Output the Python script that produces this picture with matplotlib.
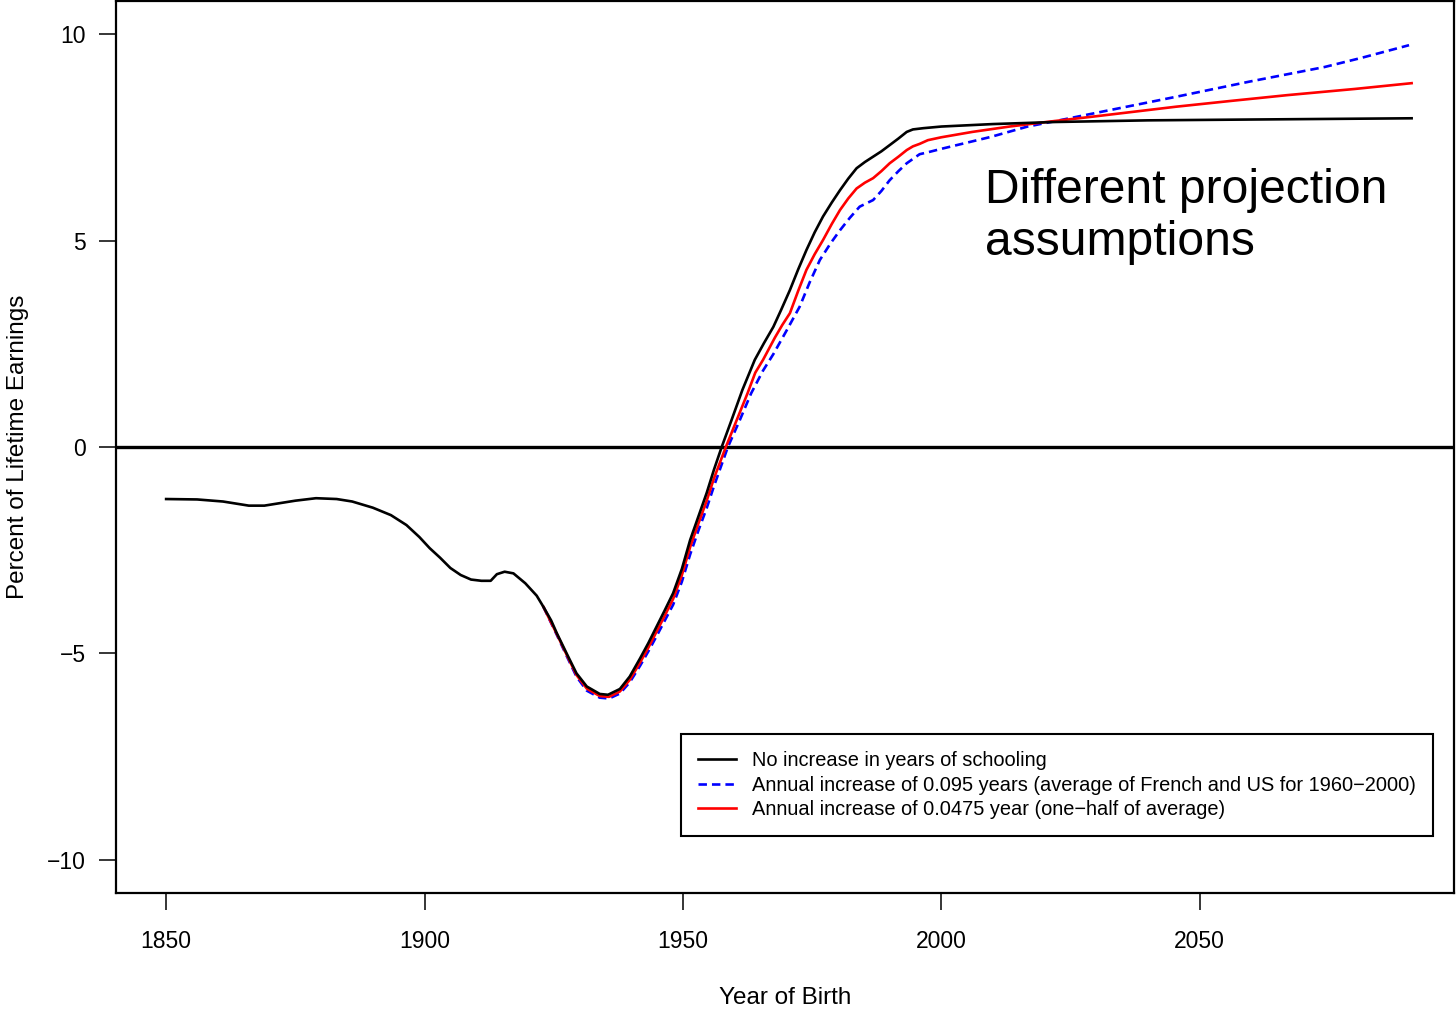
import matplotlib
matplotlib.use("Agg")
import matplotlib.pyplot as plt
from matplotlib.lines import Line2D

plt.rcParams["font.family"] = ["Liberation Sans", "DejaVu Sans"]

# Scenario: no increase in years of schooling
years_flat = [1850, 1856, 1861, 1866, 1869, 1875, 1879, 1883, 1886, 1890,
              1893.5, 1896.5, 1899, 1901, 1903, 1905, 1907, 1909, 1911, 1912.8,
              1914, 1915.5, 1917.2, 1919.5, 1921.7, 1923, 1924.5, 1925.6, 1927.5, 1929.4,
              1931.4, 1933.9, 1935.5, 1937.8, 1939.7, 1941.7, 1943.3, 1944.9, 1946.5, 1948.1,
              1949.8, 1951.4, 1953, 1954.6, 1956, 1957.5, 1959.4, 1961.5, 1963.9, 1965.7,
              1967.5, 1969, 1970.7, 1972.3, 1973.9, 1975.5, 1977.1, 1978.8, 1980.4, 1982,
              1983.6, 1985.2, 1986.8, 1988.4, 1990.0, 1991.7, 1993.3, 1994.5, 1996.5, 2000,
              2010, 2022, 2040, 2060, 2091]
share_flat = [-1.26, -1.27, -1.32, -1.42, -1.42, -1.30, -1.24, -1.26, -1.32, -1.47,
              -1.65, -1.89, -2.18, -2.45, -2.68, -2.93, -3.10, -3.21, -3.24, -3.24,
              -3.08, -3.02, -3.06, -3.30, -3.60, -3.87, -4.20, -4.51, -5.00, -5.48,
              -5.80, -5.98, -6.00, -5.86, -5.56, -5.12, -4.75, -4.35, -3.95, -3.54,
              -2.95, -2.25, -1.68, -1.11, -0.55, 0.00, 0.65, 1.38, 2.11, 2.52,
              2.91, 3.32, 3.80, 4.30, 4.77, 5.20, 5.58, 5.92, 6.22, 6.50,
              6.75, 6.90, 7.03, 7.16, 7.31, 7.47, 7.63, 7.69, 7.72, 7.76,
              7.82, 7.87, 7.91, 7.93, 7.96]

# Scenario: annual increase of 0.095 years
years_full = [1923, 1925.6, 1927.5, 1929.4, 1931.4, 1933.9, 1935.7, 1937.8, 1939.7, 1941.7,
              1943.3, 1944.9, 1946.5, 1948.1, 1949.8, 1951.4, 1953, 1954.6, 1956, 1958.7,
              1961, 1963.2, 1965.5, 1967.5, 1970.1, 1972.6, 1974.5, 1976.5, 1978.5, 1980.4,
              1982.3, 1984.2, 1986.8, 1988.4, 1990.0, 1991.7, 1993.3, 1995.8, 1997.5, 2000,
              2009.6, 2016.7, 2023.2, 2031.1, 2045.4, 2059.7, 2074.1, 2081.2, 2090.5]
share_full = [-3.87, -4.55, -5.06, -5.56, -5.90, -6.07, -6.09, -5.97, -5.70, -5.30,
              -4.95, -4.58, -4.20, -3.82, -3.26, -2.60, -2.02, -1.48, -0.95, 0.00,
              0.65, 1.30, 1.85, 2.25, 2.83, 3.40, 3.98, 4.53, 4.92, 5.25,
              5.55, 5.82, 5.98, 6.20, 6.46, 6.68, 6.87, 7.09, 7.14, 7.22,
              7.51, 7.76, 7.92, 8.12, 8.48, 8.85, 9.20, 9.42, 9.73]

# Scenario: annual increase of 0.0475 years
years_half = [1923, 1925.6, 1927.5, 1929.4, 1931.4, 1933.9, 1935.7, 1937.8, 1939.7, 1941.7,
              1943.3, 1944.9, 1946.5, 1948.1, 1949.8, 1951.4, 1953, 1954.6, 1956, 1958.3,
              1960.4, 1962.5, 1964, 1965.5, 1967.8, 1969.2, 1970.7, 1972.3, 1973.9, 1975.5,
              1977.1, 1978.8, 1980.4, 1982, 1983.6, 1985.2, 1986.8, 1988.4, 1990.0, 1991.7,
              1993.3, 1994.5, 1995.8, 1997.4, 2000, 2006, 2013.2, 2020.3, 2030, 2045.4,
              2056, 2066.9, 2080, 2091]
share_half = [-3.87, -4.53, -5.03, -5.52, -5.85, -6.03, -6.05, -5.92, -5.64, -5.22,
              -4.86, -4.47, -4.08, -3.68, -3.10, -2.42, -1.85, -1.30, -0.76, 0.00,
              0.65, 1.30, 1.80, 2.11, 2.65, 2.95, 3.24, 3.78, 4.29, 4.67,
              5.01, 5.40, 5.74, 6.02, 6.26, 6.40, 6.51, 6.68, 6.87, 7.03,
              7.19, 7.28, 7.34, 7.43, 7.50, 7.63, 7.76, 7.87, 8.01, 8.24,
              8.38, 8.52, 8.67, 8.81]

labels = ["No increase in years of schooling",
          "Annual increase of 0.095 years (average of French and US for 1960\u22122000)",
          "Annual increase of 0.0475 year (one\u2212half of average)"]

x_ticks = [1850, 1900, 1950, 2000, 2050]
y_ticks = [-10, -5, 0, 5, 10]

fig = plt.figure(figsize=(14.56, 10.11), dpi=100)
ax = fig.add_axes([116 / 1456, 118 / 1011, 1338 / 1456, 892 / 1011])

lw = 1.9
dash = (3.2, 1.9)
ax.axhline(0, color="black", lw=2.4, zorder=1)
ax.plot(years_full, share_full, color="#0000ff", lw=lw, dashes=dash, zorder=2)
ax.plot(years_half, share_half, color="#ff0000", lw=lw, zorder=3)
ax.plot(years_flat, share_flat, color="black", lw=lw, zorder=4)

ax.set_xlim(1840.3, 2099.2)
ax.set_ylim(-10.8, 10.8)
ax.set_xticks(x_ticks)
ax.set_yticks(y_ticks)
ax.tick_params(axis="both", direction="out", length=12, width=1.1, labelsize=16.5)
ax.tick_params(axis="x", pad=14.5)
ax.tick_params(axis="y", pad=9.5)

for sp in ax.spines.values():
    sp.set_linewidth(1.6)

ax.set_xlabel("Year of Birth", fontsize=17.5)
ax.set_ylabel("Percent of Lifetime Earnings", fontsize=17.5)
ax.xaxis.set_label_coords(0.5, -0.1054)
ax.yaxis.set_label_coords(-0.065, 0.5)

ax.text(2008.4, 4.65, "Different projection\nassumptions", fontsize=34.6,
        ha="left", va="baseline")

handles = [Line2D([], [], color="black", lw=lw),
           Line2D([], [], color="#0000ff", lw=lw, dashes=dash),
           Line2D([], [], color="#ff0000", lw=lw)]
leg = ax.legend(handles, labels, loc="lower right", bbox_to_anchor=(0.9843, 0.0639),
                borderaxespad=0, fontsize=14.4, frameon=True, fancybox=False,
                edgecolor="black", framealpha=1, handlelength=1.9, handletextpad=0.8,
                labelspacing=0.27, borderpad=0.85)
leg.get_frame().set_linewidth(1.5)

fig.savefig("out.png", dpi=100)
